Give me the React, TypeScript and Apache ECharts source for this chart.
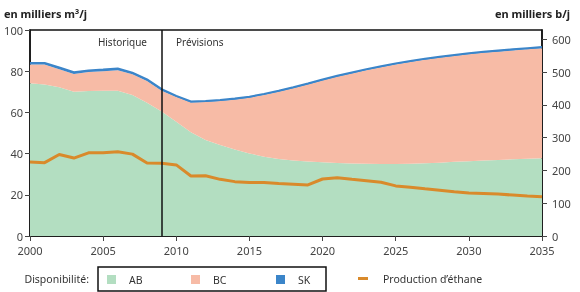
import React, { useEffect, useRef } from "react";
import * as echarts from "echarts";

const years = Array.from({ length: 36 }, (_, i) => String(2000 + i));
const abValues = [74.1, 73.6, 72.2, 70, 70.4, 70.5, 70.5, 68.4, 64.7, 60.4, 55.5, 50.4, 46.6, 44.2, 42, 40.1, 38.5, 37.4, 36.7, 36.2, 35.8, 35.4, 35.2, 35.1, 35, 35, 35.1, 35.3, 35.6, 36, 36.3, 36.6, 36.9, 37.2, 37.5, 37.8];
const bcValues = [9.1, 9.6, 8.8, 8.7, 9.2, 9.5, 10, 10.1, 10.5, 10.1, 12, 14.4, 18.4, 21.3, 24.2, 27, 30, 32.6, 35, 37.3, 39.7, 41.9, 43.7, 45.4, 46.9, 48.3, 49.4, 50.3, 50.9, 51.4, 51.9, 52.3, 52.6, 52.9, 53.2, 53.4];
const skValues = [0.8, 0.8, 0.8, 0.8, 0.8, 0.8, 0.8, 0.8, 0.8, 0.8, 0.5, 0.5, 0.5, 0.5, 0.5, 0.5, 0.5, 0.5, 0.5, 0.5, 0.5, 0.5, 0.5, 0.5, 0.5, 0.5, 0.5, 0.5, 0.5, 0.5, 0.5, 0.5, 0.5, 0.5, 0.5, 0.5];
// ethane production, thousand b/d (right axis)
const ethaneValues = [226, 224, 249, 238, 254, 254, 257, 250, 223, 222, 217, 183, 184, 173, 166, 163, 163, 160, 158, 156, 174, 178, 173, 169, 164, 153, 149, 144, 140, 135, 131, 130, 128, 125, 122, 120];
const rightTicks = [0, 100, 200, 300, 400, 500, 600];
const M3_TO_BBL = 6.2898;

const FONT = "Noto Sans";
const GREEN = "#b3dec1";
const SALMON = "#f7bba6";
const BLUE = "#3b85c9";
const ORANGE = "#d98a2b";

export default function App() {
  const ref = useRef<HTMLDivElement>(null);
  useEffect(() => {
    if (!ref.current) return;
    const chart = echarts.init(ref.current, null, { renderer: "svg" });
    const legendBase = {
      top: 274,
      padding: 0,
      itemWidth: 9,
      itemHeight: 9,
      icon: "rect",
      textStyle: { fontFamily: FONT, fontSize: 10.5, color: "#333", padding: [0, 0, 0, 8] },
      selectedMode: false,
    };
    chart.setOption({
      animation: false,
      textStyle: { fontFamily: FONT },
      grid: {
        left: 30,
        right: 38,
        top: 30,
        bottom: 56,
        show: true,
        borderColor: "#111",
        borderWidth: 1.5,
        backgroundColor: "transparent",
      },
      legend: [
        { ...legendBase, left: 107, data: ["AB"] },
        { ...legendBase, left: 191, data: ["BC"] },
        { ...legendBase, left: 276, data: ["SK"] },
        {
          ...legendBase,
          left: 358,
          itemWidth: 10,
          itemHeight: 3,
          top: 273,
          textStyle: { ...legendBase.textStyle, padding: [0, 0, 0, 10] },
          data: ["Production d’éthane"],
        },
      ],
      xAxis: {
        type: "category",
        data: years,
        boundaryGap: false,
        axisLine: { show: true, lineStyle: { color: "#111", width: 1.5 } },
        axisTick: { show: true, interval: 4, length: 5, lineStyle: { color: "#444" } },
        axisLabel: { interval: 4, margin: 9, fontSize: 11, color: "#444", fontFamily: FONT },
        splitLine: { show: false },
      },
      yAxis: [
        {
          type: "value",
          min: 0,
          max: 100,
          interval: 20,
          axisLine: { show: true, lineStyle: { color: "#111", width: 1.5 } },
          axisTick: { show: true, length: 5, lineStyle: { color: "#444" } },
          axisLabel: { margin: 7, fontSize: 11, color: "#444", fontFamily: FONT },
          splitLine: { show: false },
        },
        {
          type: "value",
          min: 0,
          max: 100 * M3_TO_BBL,
          position: "right",
          axisLine: { show: true, lineStyle: { color: "#111", width: 1.5 } },
          axisTick: { show: true, length: 5, lineStyle: { color: "#444" }, customValues: rightTicks },
          axisLabel: {
            margin: 10,
            fontSize: 11,
            color: "#444",
            fontFamily: FONT,
            customValues: rightTicks,
            formatter: (v: number) => (Math.abs(v % 100) < 1e-6 ? String(v) : ""),
          },
          splitLine: { show: false },
        },
      ],
      graphic: [
        {
          type: "text",
          left: 4,
          top: 8,
          style: { text: "en milliers m³/j", font: `bold 11px "${FONT}"`, fill: "#222" },
        },
        {
          type: "text",
          right: 10,
          top: 8,
          style: { text: "en milliers b/j", font: `bold 11px "${FONT}"`, fill: "#222" },
        },
        {
          type: "text",
          x: 147,
          y: 42,
          style: { text: "Historique", font: `10px "${FONT}"`, fill: "#333", align: "right", verticalAlign: "middle" },
        },
        {
          type: "text",
          x: 176,
          y: 42,
          style: { text: "Prévisions", font: `10px "${FONT}"`, fill: "#333", align: "left", verticalAlign: "middle" },
        },
        {
          type: "text",
          x: 89,
          y: 279,
          style: { text: "Disponibilité:", font: `10.5px "${FONT}"`, fill: "#333", align: "right", verticalAlign: "middle" },
        },
        {
          type: "rect",
          shape: { x: 98, y: 267, width: 228, height: 24 },
          style: { fill: "none", stroke: "#111", lineWidth: 1.5 },
        },
      ],
      series: [
        {
          name: "AB",
          type: "line",
          stack: "supply",
          data: abValues,
          showSymbol: false,
          symbol: "none",
          itemStyle: { color: GREEN },
          lineStyle: { width: 0, color: GREEN },
          areaStyle: { color: GREEN, opacity: 1 },
          markLine: {
            silent: true,
            symbol: "none",
            label: { show: false },
            lineStyle: { color: "#111", width: 1.5, type: "solid" },
            data: [{ xAxis: "2009" }],
            z: 10,
          },
        },
        {
          name: "BC",
          type: "line",
          stack: "supply",
          data: bcValues,
          showSymbol: false,
          symbol: "none",
          itemStyle: { color: SALMON },
          lineStyle: { width: 0, color: SALMON },
          areaStyle: { color: SALMON, opacity: 1 },
        },
        {
          name: "SK",
          type: "line",
          stack: "supply",
          data: skValues,
          showSymbol: false,
          symbol: "none",
          itemStyle: { color: BLUE },
          lineStyle: { width: 2, color: BLUE },
          areaStyle: { color: BLUE, opacity: 1 },
        },
        {
          name: "Production d’éthane",
          type: "line",
          yAxisIndex: 1,
          data: ethaneValues,
          showSymbol: false,
          symbol: "none",
          itemStyle: { color: ORANGE },
          lineStyle: { width: 3, color: ORANGE },
          z: 5,
        },
      ],
    });
    return () => chart.dispose();
  }, []);
  return (
    <div
      ref={ref}
      style={{ position: "fixed", left: 0, top: 0, width: 580, height: 292 }}
    />
  );
}
